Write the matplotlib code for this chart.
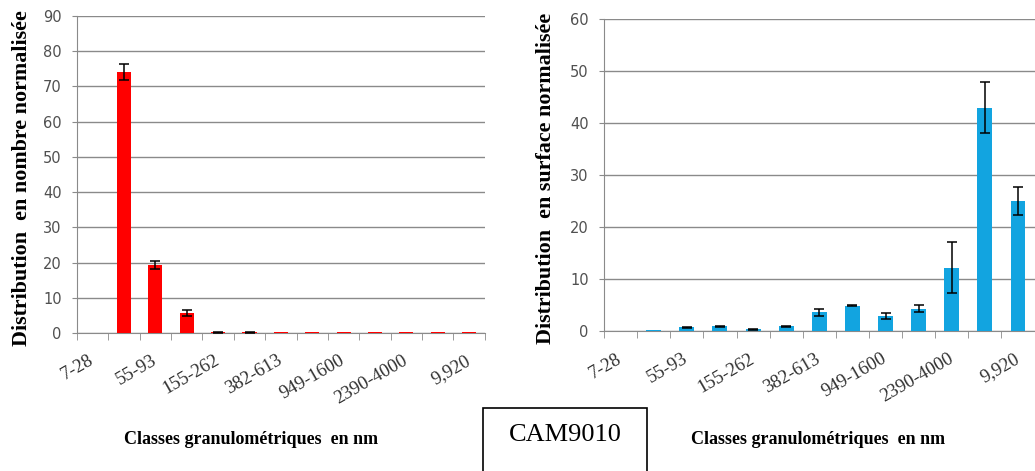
import numpy as np
import matplotlib
matplotlib.use("Agg")
import matplotlib.pyplot as plt
from matplotlib.patches import Rectangle

# Particle size classes (nm) - only every other class is labelled on the axis
class_labels = ['7-28', '55-93', '155-262', '382-613', '949-1600', '2390-4000', '9,920']
n_classes = 13

# Number-weighted distribution (normalised) with standard deviation
nombre = [0, 74.1, 19.2, 5.7, 0.2, 0.2, 0.3, 0.3, 0.3, 0.3, 0.3, 0.3, 0.3]
nombre_err = [0, 2.3, 1.1, 0.8, 0.1, 0.1, 0, 0, 0, 0, 0, 0, 0]

# Surface-weighted distribution (normalised) with standard deviation
surface = [0, 0.2, 0.7, 0.9, 0.4, 0.9, 3.6, 4.9, 2.9, 4.3, 12.2, 43.0, 25.0]
surface_err = [0, 0, 0.15, 0.1, 0.1, 0.1, 0.6, 0.1, 0.55, 0.7, 4.9, 4.9, 2.7]

serif = ['Liberation Serif', 'DejaVu Serif']
grid_col = '#8a8a8a'

fig = plt.figure(figsize=(10.35, 4.71), dpi=100)


def draw_panel(rect, values, errors, color, ymax, ylabel):
    ax = fig.add_axes(rect)
    x = np.arange(n_classes)
    vals = np.array(values)
    errs = np.array(errors)
    ax.bar(x, vals, width=0.45, color=color, zorder=3)
    # error bars only where a deviation was measured
    m = errs > 0
    ax.errorbar(x[m], vals[m], yerr=errs[m], fmt='none', ecolor='black',
                elinewidth=1.1, capsize=3.5, capthick=1.1, zorder=4)
    ax.set_xlim(-0.5, n_classes - 0.5)
    ax.set_ylim(0, ymax)
    ax.set_yticks(np.arange(0, ymax + 1, 10))
    ax.yaxis.grid(True, color=grid_col, linewidth=1.0)
    ax.set_axisbelow(True)
    for side in ['top', 'right']:
        ax.spines[side].set_visible(False)
    for side in ['left', 'bottom']:
        ax.spines[side].set_color(grid_col)
    ax.tick_params(axis='y', length=3.6, color=grid_col, pad=7.5,
                   labelsize=10.5, labelcolor='#505050')

    # class boundaries as small ticks, labels on every other class
    ax.set_xticks(np.arange(-0.5, n_classes, 1.0), minor=True)
    ax.set_xticks(np.arange(0, n_classes, 2))
    ax.set_xticklabels(class_labels, rotation=30, ha='right',
                       rotation_mode='anchor', va='center', family=serif,
                       fontsize=13.5, color='#303030')
    ax.tick_params(axis='x', which='minor', length=5, color=grid_col)
    ax.tick_params(axis='x', which='major', length=0, pad=19)
    ax.set_ylabel(ylabel, family=serif, fontweight='bold', fontsize=15.8,
                  va='center')
    ax.yaxis.set_label_coords(-0.134, 0.49)
    return ax


ax1 = draw_panel([0.0744, 0.293, 0.394, 0.673], nombre, nombre_err,
                 '#ff0000', 90, 'Distribution  en nombre normalisée')
ax2 = draw_panel([0.5836, 0.297, 0.416, 0.662], surface, surface_err,
                 '#12a4e0', 60, 'Distribution  en surface normalisée')

fig.text(0.2425, 0.066, 'Classes granulométriques  en nm', family=serif,
         fontweight='bold', fontsize=13, ha='center', va='center')
fig.text(0.79, 0.066, 'Classes granulométriques  en nm', family=serif,
         fontweight='bold', fontsize=13, ha='center', va='center')

# sample name box
fig.patches.append(Rectangle((483 / 1035, -0.01), 164 / 1035, 1 - 408 / 471 + 0.01,
                             transform=fig.transFigure, fill=False,
                             edgecolor='black', linewidth=1.2))
fig.text(565 / 1035, 1 - 435 / 471, 'CAM9010', family=serif, fontsize=19,
         ha='center', va='center')

fig.savefig('out.png', dpi=100)
